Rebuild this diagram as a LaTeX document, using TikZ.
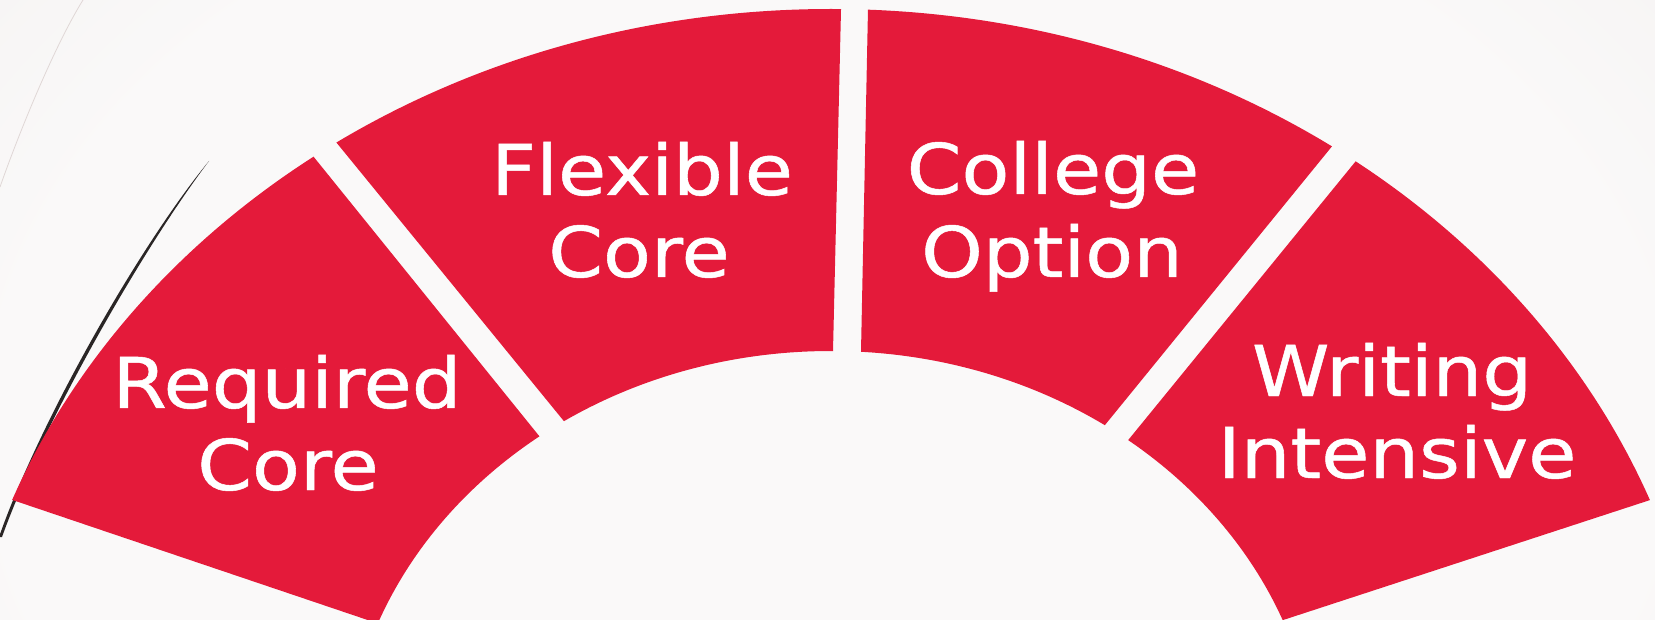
\documentclass[tikz,border=0pt]{standalone}
\usepackage{fontspec}
\newfontfamily\lblfont[FakeBold=0.7]{DejaVu Sans}
\definecolor{arcred}{HTML}{E41A3A}
\definecolor{bgin}{HTML}{FAF9F9}
\definecolor{bgout}{HTML}{E9E2DF}
\definecolor{curvecol}{HTML}{2A2626}
\definecolor{faintcol}{HTML}{E0D7D6}
\pgfdeclareradialshading{bgshade}{\pgfpoint{0bp}{0bp}}{color(0bp)=(bgin); color(20bp)=(bgin); color(50bp)=(bgout); color(72bp)=(bgout)}
\newcommand{\wide}[1]{\scalebox{1.12}[1]{#1}}
\tikzset{
  sectorfill/.style={fill=arcred, even odd rule},
  lbl/.style={text=white, inner sep=0pt, anchor=base, font=\lblfont\fontsize{35}{41}\selectfont},
}
\begin{document}
\begin{tikzpicture}[x=0.5pt, y=-0.5pt]
\useasboundingbox (0,0) rectangle (1655,620);
\shade[shading=bgshade] (-200,-300) rectangle (1860,1160);

% faint background line
\draw[faintcol, line width=0.4pt] (83,0) .. controls (55,45) and (20,130) .. (0,187);

% dark decorative curve (tapered)
\fill[curvecol] (209,161) .. controls (140,245) and (40,420) .. (-1,537)
  -- (2,537) .. controls (44,420) and (144,247) .. (209,161) -- cycle;

% Required Core
\begin{scope}
\clip (-100,462) -- (187,0) -- (712,650) -- (600,698.5) -- cycle;
\fill[sectorfill] (831,778) ellipse [x radius=878, y radius=769]
                  (831,778) ellipse [x radius=486, y radius=427];
\end{scope}
% Flexible Core
\begin{scope}
\clip (179.2,-50) -- (842.4,-50) -- (826,650) -- (750.8,650) -- cycle;
\fill[sectorfill] (831,778) ellipse [x radius=878, y radius=769]
                  (831,778) ellipse [x radius=486, y radius=427];
\end{scope}
% College Option
\begin{scope}
\clip (869.2,-50) -- (1491.9,-50) -- (921.7,650) -- (854.9,650) -- cycle;
\fill[sectorfill] (831,778) ellipse [x radius=878, y radius=769]
                  (831,778) ellipse [x radius=486, y radius=427];
\end{scope}
% Writing Intensive
\begin{scope}
\clip (1528.1,-50) -- (1800,451) -- (1000,712.6) -- (956.9,650) -- cycle;
\fill[sectorfill] (831,778) ellipse [x radius=878, y radius=769]
                  (831,778) ellipse [x radius=486, y radius=427];
\end{scope}

\node[lbl] (req1) at (287,408) {\wide{Required}};
\node[lbl] (req2) at (288,490) {\wide{Core}};
\node[lbl] (flex1) at (642,195) {\wide{Flexible}};
\node[lbl] (flex2) at (639,277) {\wide{Core}};
\node[lbl] (col1) at (1053,194) {\wide{College}};
\node[lbl] (col2) at (1052,277) {\wide{Option}};
\node[lbl] (wri1) at (1392,396) {\wide{Writing}};
\node[lbl] (wri2) at (1397,478) {\wide{Intensive}};
\end{tikzpicture}
\end{document}
